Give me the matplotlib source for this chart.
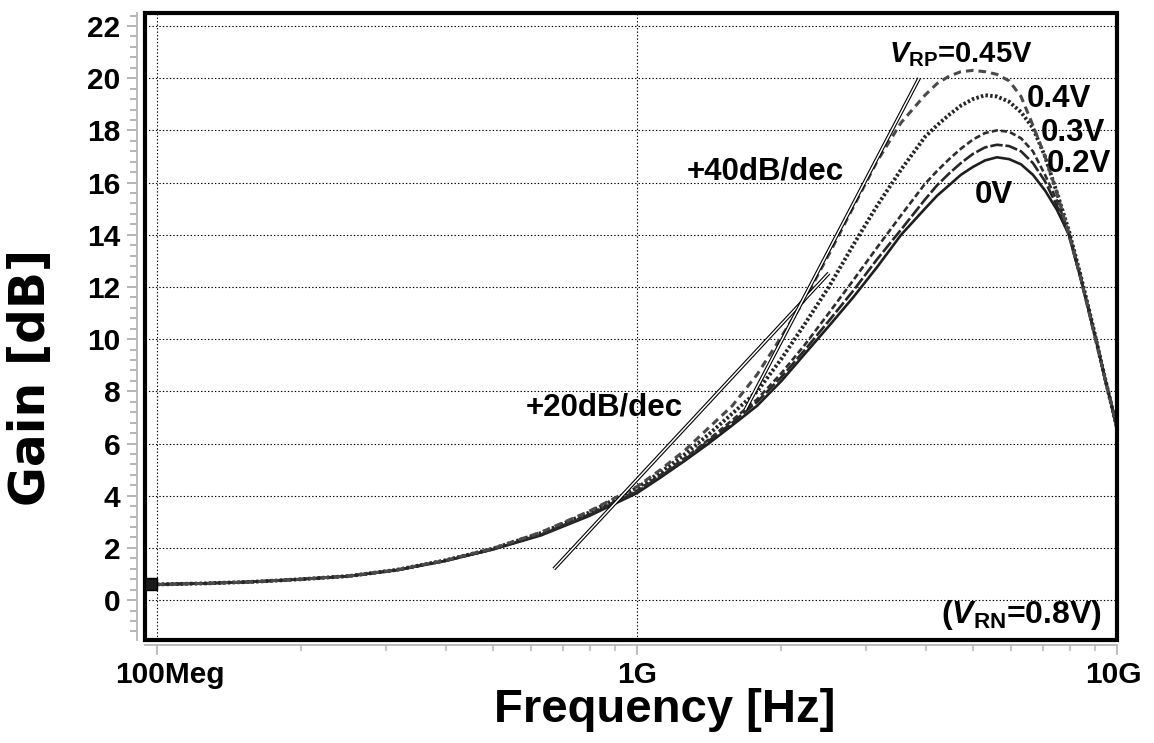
import matplotlib
matplotlib.use('Agg')
import matplotlib.pyplot as plt
from matplotlib.patches import Rectangle
from matplotlib.ticker import FixedLocator, MultipleLocator, NullFormatter
import matplotlib.transforms as mtransforms

# ---------------- data ----------------
freq_hz = [1.00e8, 1.26e8, 1.58e8, 2.00e8, 2.51e8, 3.16e8, 3.98e8, 5.01e8, 6.31e8, 7.94e8,
           1.00e9, 1.12e9, 1.26e9, 1.41e9, 1.58e9, 1.78e9, 2.00e9, 2.24e9, 2.51e9, 2.82e9,
           3.16e9, 3.55e9, 3.98e9, 4.22e9, 4.47e9, 4.73e9, 5.01e9, 5.31e9, 5.62e9, 5.96e9,
           6.31e9, 6.68e9, 7.08e9, 7.50e9, 7.94e9, 8.41e9, 8.91e9, 9.44e9, 1.00e10]

gain_045 = [0.6, 0.64, 0.7, 0.8, 0.92, 1.16, 1.52, 1.98, 2.6, 3.4,
            4.35, 5.0, 5.75, 6.6, 7.45, 8.65, 10.1, 11.55, 13.25, 15.05,
            16.8, 18.3, 19.35, 19.8, 20.08, 20.25, 20.3, 20.25, 20.15, 19.9,
            19.3, 18.2, 17.0, 15.6, 14.0, 12.3, 10.4, 8.5, 6.6]
gain_040 = [0.6, 0.64, 0.7, 0.8, 0.92, 1.16, 1.52, 1.97, 2.57, 3.35,
            4.3, 4.9, 5.6, 6.35, 7.15, 8.0, 9.25, 10.6, 12.0, 13.6,
            15.1, 16.5, 17.75, 18.2, 18.6, 18.95, 19.2, 19.35, 19.3, 19.1,
            18.7, 18.1, 17.0, 15.6, 14.15, 12.4, 10.5, 8.5, 6.6]
gain_030 = [0.6, 0.64, 0.7, 0.8, 0.92, 1.15, 1.5, 1.95, 2.52, 3.28,
            4.2, 4.8, 5.45, 6.15, 6.9, 7.7, 8.7, 9.8, 11.0, 12.25,
            13.5, 14.75, 15.95, 16.45, 16.9, 17.3, 17.65, 17.9, 18.0, 17.95,
            17.7, 17.2, 16.3, 15.3, 14.1, 12.35, 10.5, 8.5, 6.6]
gain_020 = [0.6, 0.64, 0.7, 0.8, 0.92, 1.15, 1.5, 1.95, 2.5, 3.25,
            4.15, 4.75, 5.4, 6.1, 6.8, 7.6, 8.55, 9.6, 10.7, 11.85,
            13.05, 14.2, 15.35, 15.9, 16.35, 16.75, 17.1, 17.35, 17.45, 17.4,
            17.2, 16.75, 16.05, 15.1, 14.0, 12.3, 10.45, 8.5, 6.6]
gain_000 = [0.6, 0.64, 0.7, 0.8, 0.92, 1.15, 1.5, 1.94, 2.48, 3.22,
            4.1, 4.7, 5.35, 6.0, 6.7, 7.45, 8.4, 9.45, 10.5, 11.6,
            12.75, 14.0, 15.0, 15.5, 15.9, 16.3, 16.6, 16.85, 16.97, 16.9,
            16.7, 16.3, 15.7, 14.95, 14.0, 12.3, 10.45, 8.5, 6.6]

slope20_f = [6.71e8, 2.51e9]
slope20_g = [1.19, 12.53]
slope40_f = [1.68e9, 3.87e9]
slope40_g = [7.28, 20.0]

y_ticks = [0, 2, 4, 6, 8, 10, 12, 14, 16, 18, 20, 22]
x_ticks = [1e8, 1e9, 1e10]
x_tick_labels = ['100Meg', '1G', '10G']

# ---------------- style ----------------
plt.rcParams['font.family'] = ['Liberation Sans', 'DejaVu Sans']
plt.rcParams['font.weight'] = 'bold'
plt.rcParams['mathtext.fontset'] = 'custom'
plt.rcParams['mathtext.rm'] = 'Liberation Sans:bold'
plt.rcParams['mathtext.bf'] = 'Liberation Sans:bold'
plt.rcParams['mathtext.it'] = 'Liberation Sans:italic:bold'
plt.rcParams['lines.scale_dashes'] = False

fig = plt.figure(figsize=(11.54, 7.43), dpi=100)
W, H = 1154, 743
ax = fig.add_axes([145 / W, 1 - 640 / H, (1117 - 145) / W, (640 - 13) / H])
ax.set_xscale('log')
ax.set_xlim(10 ** 7.975, 1e10)
ax.set_ylim(-1.53, 22.5)

# grid
ax.set_yticks(y_ticks)
ax.yaxis.set_minor_locator(MultipleLocator(0.4))
ax.set_xticks(x_ticks)
ax.xaxis.set_minor_locator(FixedLocator([m * d for d in (1e8, 1e9) for m in range(2, 10)]))
ax.xaxis.set_major_formatter(NullFormatter())
ax.xaxis.set_minor_formatter(NullFormatter())
ax.grid(True, which='major', color='black', linestyle=(0, (1, 1.5)), linewidth=0.8)

# spines: gray outer axis lines, black frame drawn separately
for s in ('top', 'right'):
    ax.spines[s].set_visible(False)
ax.spines['left'].set_position(('outward', 5.8))
ax.spines['bottom'].set_position(('outward', 3.6))
for s in ('left', 'bottom'):
    ax.spines[s].set_color('#b5b5b5')
    ax.spines[s].set_linewidth(1.3)
ax.add_patch(Rectangle((0, 0), 1, 1, transform=ax.transAxes, fill=False,
                       lw=3.0, ec='black', clip_on=False, zorder=10))

ax.tick_params(axis='y', which='major', length=7, width=1.3, color='#b0b0b0',
               pad=5, labelsize=21.5)
ax.tick_params(axis='y', which='minor', length=5, width=1.3, color='#b0b0b0')
ax.tick_params(axis='x', which='major', length=7, width=1.5, color='#c0c0c0')
ax.tick_params(axis='x', which='minor', length=4, width=1.5, color='#c8c8c8')
for lab in ax.get_yticklabels():
    lab.set_fontweight('bold')

# x tick labels placed manually
trans = mtransforms.blended_transform_factory(ax.transData, ax.transAxes)
x_label_pos = [1.064e8, 1e9, 0.985e10]
for xp, txt in zip(x_label_pos, x_tick_labels):
    ax.text(xp, -0.033, txt, transform=trans, ha='center', va='top',
            fontsize=21.5, fontweight='bold', clip_on=False)

# curves
ax.plot(freq_hz, gain_000, color='#1e1e1e', lw=1.9, zorder=3)
ax.plot(freq_hz, gain_020, color='#262626', lw=1.9, linestyle=(0, (9, 2)), zorder=3)
ax.plot(freq_hz, gain_030, color='#2e2e2e', lw=1.9, linestyle=(0, (4.5, 2.2)), zorder=3)
ax.plot(freq_hz, gain_040, color='#262626', lw=2.8, linestyle=(0, (1.8, 1.6)),
        dash_capstyle='butt', zorder=3)
ax.plot(freq_hz, gain_045, color='#4a4a4a', lw=2.2, linestyle=(0, (5.5, 3.6)), zorder=3)
ax.plot([0.972e8], [gain_045[0]], marker='s', markersize=9, mfc='#1a1a1a',
        mec='black', clip_on=False, zorder=11)

# asymptote double lines
for fx, gy in ((slope20_f, slope20_g), (slope40_f, slope40_g)):
    ax.plot(fx, gy, color='black', lw=2.7, solid_capstyle='butt', zorder=4)
    ax.plot(fx, gy, color='white', lw=1.1, solid_capstyle='butt', zorder=4)

# annotations
fs = 22.5
ax.text(3.35e9, 20.6, r'$\mathit{V}_{\mathrm{RP}}$=0.45V', fontsize=21,
        fontweight='bold', ha='left', va='baseline', zorder=6)
ax.text(6.49e9, 18.9, '0.4V', fontsize=fs, fontweight='bold', ha='left', va='baseline')
ax.text(6.95e9, 17.6, '0.3V', fontsize=fs, fontweight='bold', ha='left', va='baseline')
ax.text(7.14e9, 16.4, '0.2V', fontsize=fs, fontweight='bold', ha='left', va='baseline')
ax.text(5.06e9, 15.2, '0V', fontsize=fs, fontweight='bold', ha='left', va='baseline')
ax.text(1.27e9, 16.1, '+40dB/dec', fontsize=fs, fontweight='bold', ha='left', va='baseline')
ax.text(5.87e8, 7.09, '+20dB/dec', fontsize=fs, fontweight='bold', ha='left', va='baseline')
ax.text(4.3e9, -0.88, r'($\mathit{V}_{\mathrm{RN}}$=0.8V)', fontsize=23,
        fontweight='bold', ha='left', va='baseline')

# axis titles
fig.text(31 / W, 1 - 377 / H, 'Gain [dB]', rotation=90, ha='center', va='center',
         fontsize=35, fontweight='bold', family='DejaVu Sans')
fig.text(665 / W, 1 - 710 / H, 'Frequency [Hz]', ha='center', va='center',
         fontsize=34, fontweight='bold')

fig.savefig('out.png', dpi=100)
